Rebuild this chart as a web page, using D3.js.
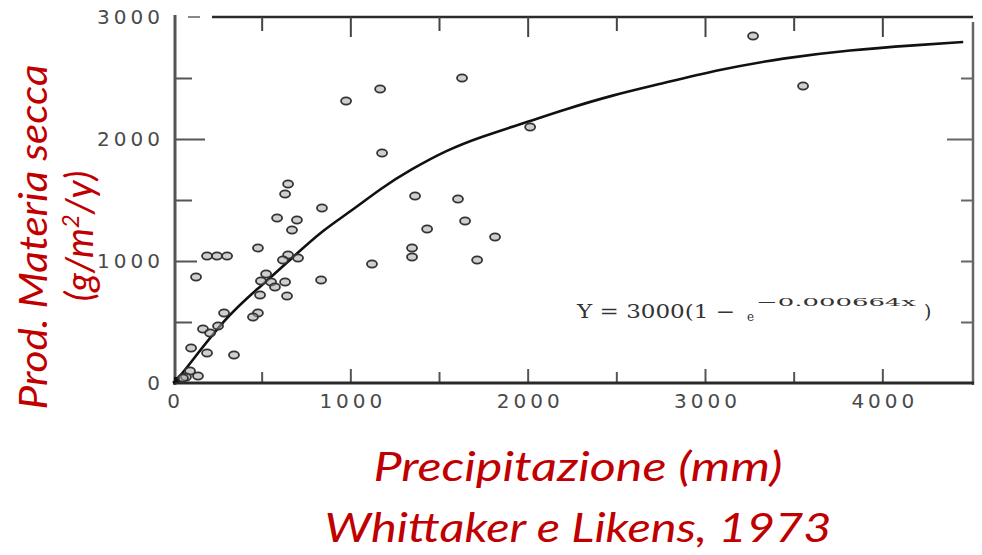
<!DOCTYPE html>
<html>
<head>
<meta charset="utf-8">
<script src="https://cdn.jsdelivr.net/npm/d3@7"></script>
<style>
  html, body { margin: 0; padding: 0; background: #fff; }
  svg { display: block; }
</style>
</head>
<body>
<svg id="chart" width="982" height="555"></svg>
<script>
// ---- data ----
const precipitation = [649, 632, 840, 587, 699, 671, 479, 192, 248, 305, 649, 705, 620, 130, 835, 525, 496, 553, 632, 575, 643, 491, 479, 451, 288, 169, 254, 209, 102, 192, 344, 96, 141, 73, 56,
  1630, 1168, 976, 1179, 2014, 1365, 1607, 1647, 1433, 1816, 1348, 1348, 1715, 1122, 3271, 3553];
const production = [1631, 1549, 1434, 1352, 1336, 1254, 1107, 1041, 1041, 1041, 1049, 1025, 1008, 869, 844, 893, 836, 828, 828, 787, 713, 721, 574, 541, 574, 443, 467, 410, 287, 246, 230, 98, 57, 49, 41,
  2500, 2410, 2311, 1885, 2098, 1533, 1508, 1328, 1262, 1197, 1107, 1033, 1008, 975, 2844, 2434];

// fitted curve
const curveX = [0, 39, 305, 491, 677, 846, 998, 1184, 1337, 1545, 1732, 1997, 2200, 2482, 2747, 3068, 3441, 3818, 4196, 4456];
const curveY = [0, 49, 557, 787, 1033, 1254, 1402, 1607, 1746, 1910, 2016, 2139, 2238, 2361, 2451, 2566, 2664, 2730, 2770, 2795];

const xMajorTicks = [0, 1000, 2000, 3000, 4000];
const xAllTicks = [500, 1000, 1500, 2000, 2500, 3000, 3500, 4000];
const yMajorTicks = [0, 1000, 2000, 3000];
const yAllTicks = [500, 1000, 1500, 2000, 2500];

const xTitle = "Precipitazione (mm)";
const sourceText = "Whittaker e Likens, 1973";
const yTitle1 = "Prod. Materia secca";

// ---- drawing ----
const svg = d3.select("#chart");
const x = d3.scaleLinear().domain([0, 4500]).range([173, 971]);
const y = d3.scaleLinear().domain([0, 3000]).range([383, 17]);

const axisColor = "#2a2a2a";
const labelColor = "#4a4a4a";

// left axis line
svg.append("line").attr("x1", 175).attr("x2", 175).attr("y1", 15).attr("y2", 385)
  .attr("stroke", "#555").attr("stroke-width", 3);
// right axis line
svg.append("line").attr("x1", 973).attr("x2", 973).attr("y1", 22).attr("y2", 385)
  .attr("stroke", "#666").attr("stroke-width", 2.5);
// top axis line (with dashed start)
svg.append("line").attr("x1", 188).attr("x2", 200).attr("y1", 17).attr("y2", 17)
  .attr("stroke", "#888").attr("stroke-width", 2);
svg.append("line").attr("x1", 212).attr("x2", 973).attr("y1", 17).attr("y2", 17)
  .attr("stroke", axisColor).attr("stroke-width", 2.5);

// bottom axis: ticks pointing up
const bottomTicks = svg.append("g").attr("transform", "translate(0,383)")
  .call(d3.axisTop(x).tickValues(xAllTicks).tickSize(12).tickFormat(""));
bottomTicks.select(".domain").remove();
bottomTicks.selectAll(".tick line").attr("stroke", "#555").attr("stroke-width", 2)
  .attr("y2", d => d % 1000 === 0 ? -14 : -11);
svg.append("line").attr("x1", 173).attr("x2", 974).attr("y1", 383).attr("y2", 383)
  .attr("stroke", axisColor).attr("stroke-width", 3);

// bottom labels
const bottomLabels = svg.append("g").attr("transform", "translate(0,383)")
  .call(d3.axisBottom(x).tickValues(xMajorTicks).tickSize(0).tickPadding(11).tickFormat(d3.format("d")));
bottomLabels.select(".domain").remove();
bottomLabels.selectAll("text").attr("font-family", "DejaVu Sans").attr("font-size", 20)
  .attr("letter-spacing", 4).attr("fill", labelColor).attr("dx", 2);

// top axis ticks pointing down
const topTicks = svg.append("g").attr("transform", "translate(0,17)")
  .call(d3.axisBottom(x).tickValues(xAllTicks).tickSize(18).tickFormat(""));
topTicks.select(".domain").remove();
topTicks.selectAll(".tick line").attr("stroke", "#444").attr("stroke-width", 2)
  .attr("y2", d => d % 1000 === 0 ? 20 : 14);

// left axis ticks pointing right
const leftTicks = svg.append("g").attr("transform", "translate(175,0)")
  .call(d3.axisRight(y).tickValues(yAllTicks).tickSize(20).tickFormat(""));
leftTicks.select(".domain").remove();
leftTicks.selectAll(".tick line").attr("stroke", "#555").attr("stroke-width", 2)
  .attr("x2", d => d === 2000 ? 30 : (d % 1000 === 0 ? 22 : 17));

// left labels
const leftLabels = svg.append("g").attr("transform", "translate(175,0)")
  .call(d3.axisLeft(y).tickValues(yMajorTicks).tickSize(0).tickPadding(11).tickFormat(d3.format("d")));
leftLabels.select(".domain").remove();
leftLabels.selectAll("text").attr("font-family", "DejaVu Sans").attr("font-size", 20)
  .attr("letter-spacing", 4).attr("fill", labelColor);

// right axis ticks pointing left
const rightTicks = svg.append("g").attr("transform", "translate(973,0)")
  .call(d3.axisLeft(y).tickValues(yAllTicks).tickSize(14).tickFormat(""));
rightTicks.select(".domain").remove();
rightTicks.selectAll(".tick line").attr("stroke", "#666").attr("stroke-width", 2)
  .attr("x2", d => d === 2000 ? -26 : -12);

// fitted curve
const line = d3.line().x(d => x(d[0])).y(d => y(d[1])).curve(d3.curveBasis);
svg.append("path").datum(curveX.map((v, i) => [v, curveY[i]]))
  .attr("d", line).attr("fill", "none").attr("stroke", "#111").attr("stroke-width", 2.6);

// origin marker
svg.append("rect").attr("x", x(0) + 1).attr("y", y(0) - 6).attr("width", 6).attr("height", 5).attr("fill", "#111");

// points
svg.append("g").selectAll("ellipse").data(precipitation.map((v, i) => [v, production[i]]))
  .join("ellipse")
  .attr("cx", d => x(d[0])).attr("cy", d => y(d[1]))
  .attr("rx", 5).attr("ry", 3.6)
  .attr("fill", "#a8a8a8").attr("fill-opacity", 0.55)
  .attr("stroke", "#333").attr("stroke-width", 1.8);

// equation
const eqColor = "#333";
svg.append("text").attr("x", 577).attr("y", 318)
  .attr("font-family", "DejaVu Serif").attr("font-size", 19).attr("fill", eqColor)
  .attr("textLength", 158).attr("lengthAdjust", "spacingAndGlyphs").text("Y = 3000(1 −");
svg.append("text").attr("x", 747).attr("y", 321)
  .attr("font-family", "DejaVu Serif").attr("font-size", 12).attr("fill", eqColor).text("e");
svg.append("text").attr("x", 756).attr("y", 306)
  .attr("font-family", "DejaVu Serif").attr("font-size", 11).attr("fill", eqColor)
  .attr("textLength", 160).attr("lengthAdjust", "spacingAndGlyphs").text("−0.000664x");
svg.append("text").attr("x", 924).attr("y", 318)
  .attr("font-family", "DejaVu Serif").attr("font-size", 19).attr("fill", eqColor).text(")");

// axis titles
const red = "#c00000";
svg.append("text").attr("x", 578).attr("y", 481).attr("text-anchor", "middle")
  .attr("font-family", "Lato").attr("font-style", "italic").attr("font-size", 40)
  .attr("fill", red).attr("textLength", 409).attr("lengthAdjust", "spacingAndGlyphs").text(xTitle);
svg.append("text").attr("x", 578).attr("y", 542).attr("text-anchor", "middle")
  .attr("font-family", "Lato").attr("font-style", "italic").attr("font-size", 40)
  .attr("fill", red).attr("textLength", 507).attr("lengthAdjust", "spacingAndGlyphs").text(sourceText);

svg.append("text").attr("transform", "translate(47,237) rotate(-90)").attr("text-anchor", "middle")
  .attr("font-family", "Lato").attr("font-style", "italic").attr("font-size", 38)
  .attr("fill", red).attr("textLength", 345).attr("lengthAdjust", "spacingAndGlyphs").text(yTitle1);
const yt2 = svg.append("text").attr("transform", "translate(93,236) rotate(-90)").attr("text-anchor", "middle")
  .attr("font-family", "Lato").attr("font-style", "italic").attr("font-size", 38).attr("fill", red);
yt2.append("tspan").text("(g/m");
yt2.append("tspan").attr("font-size", 24).attr("dy", -14).text("2");
yt2.append("tspan").attr("dy", 14).text("/y)");
</script>
</body>
</html>
